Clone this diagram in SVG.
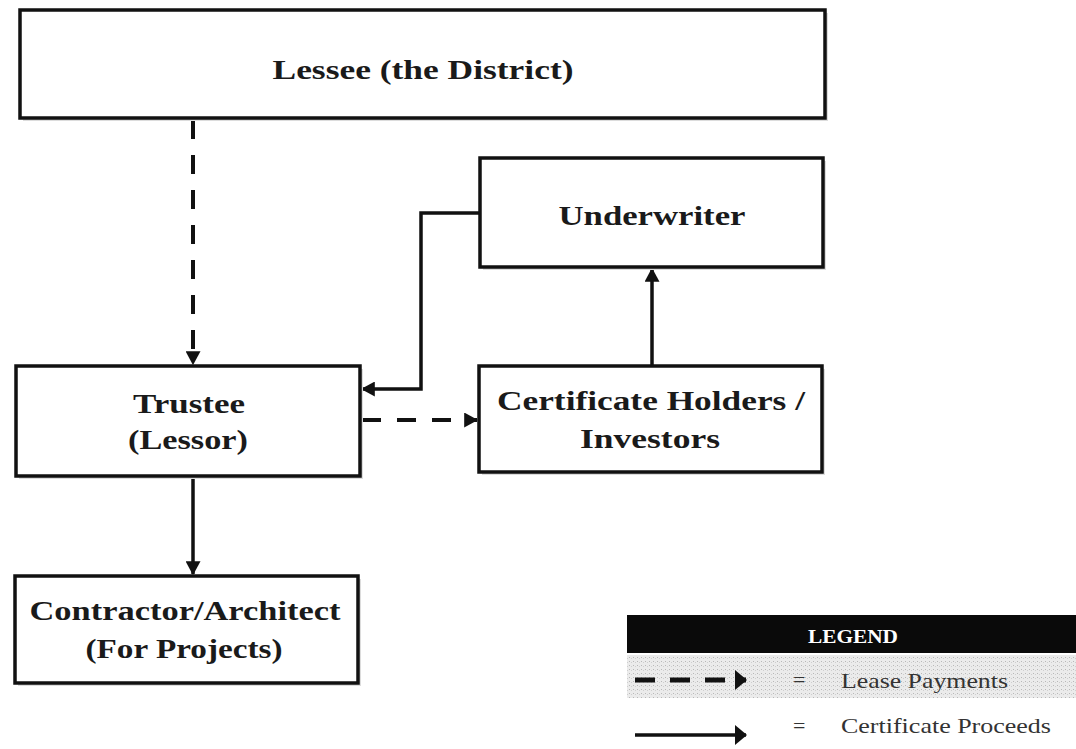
<svg xmlns="http://www.w3.org/2000/svg" width="1076" height="749" viewBox="0 0 1076 749">
<style>
.box{fill:#fff;stroke:#111;stroke-width:3.5}
.shadow{fill:#dcdcdc}
.lbl{font-family:"Liberation Serif",serif;font-weight:bold;font-size:28px;fill:#1a1a1a;text-anchor:middle}
.conn{fill:none;stroke:#111;stroke-width:3.5}
.dash{stroke-width:4;stroke-dasharray:19 16}
.leg{font-family:"Liberation Serif",serif;font-size:22px;fill:#333}
</style>
<defs>
<marker id="ah" viewBox="0 0 12 12" refX="11" refY="6" markerWidth="14" markerHeight="15" markerUnits="userSpaceOnUse" orient="auto" preserveAspectRatio="none">
<path d="M0,0 L12,6 L0,12 Z" fill="#111"/>
</marker>
<marker id="ahl" viewBox="0 0 12 12" refX="11" refY="6" markerWidth="12" markerHeight="20" markerUnits="userSpaceOnUse" orient="auto" preserveAspectRatio="none">
<path d="M0,0 L12,6 L0,12 Z" fill="#111"/>
</marker>
<pattern id="stip" width="4" height="4" patternUnits="userSpaceOnUse">
<rect width="4" height="4" fill="#ebebeb"/>
<rect x="1" y="1" width="1" height="1" fill="#b8b8b8"/>
<rect x="3" y="2" width="1" height="1" fill="#cfcfcf"/>
</pattern>
</defs>
<rect width="1076" height="749" fill="#fff"/>
<g id="connectors">
<path class="conn dash" d="M193,120 V364" marker-end="url(#ah)"/>
<path class="conn" d="M480,213 H421 V389 H362" marker-end="url(#ah)"/>
<path class="conn dash" d="M362,420 H477" marker-end="url(#ah)"/>
<path class="conn" d="M652,366 V269" marker-end="url(#ah)"/>
<path class="conn" d="M193,478 V574" marker-end="url(#ah)"/>
</g>
<g id="lessee">
<rect class="shadow" x="23" y="13" width="805" height="108"/>
<rect class="box" x="20" y="10" width="805" height="108"/>
<text class="lbl" x="423" y="79" textLength="301" lengthAdjust="spacingAndGlyphs">Lessee (the District)</text>
</g>
<g id="underwriter">
<rect class="shadow" x="483" y="161" width="343" height="109"/>
<rect class="box" x="480" y="158" width="343" height="109"/>
<text class="lbl" x="652" y="225" textLength="187" lengthAdjust="spacingAndGlyphs">Underwriter</text>
</g>
<g id="trustee">
<rect class="shadow" x="19" y="369" width="344" height="110"/>
<rect class="box" x="16" y="366" width="344" height="110"/>
<text class="lbl" x="189" y="413" textLength="112" lengthAdjust="spacingAndGlyphs">Trustee</text>
<text class="lbl" x="188" y="449" textLength="120" lengthAdjust="spacingAndGlyphs">(Lessor)</text>
</g>
<g id="holders">
<rect class="shadow" x="482" y="369" width="343" height="106"/>
<rect class="box" x="479" y="366" width="343" height="106"/>
<text class="lbl" x="651" y="410" textLength="308" lengthAdjust="spacingAndGlyphs">Certificate Holders /</text>
<text class="lbl" x="650" y="448" textLength="140" lengthAdjust="spacingAndGlyphs">Investors</text>
</g>
<g id="contractor">
<rect class="shadow" x="18" y="579" width="343" height="107"/>
<rect class="box" x="15" y="576" width="343" height="107"/>
<text class="lbl" x="185" y="620" textLength="311" lengthAdjust="spacingAndGlyphs">Contractor/Architect</text>
<text class="lbl" x="184" y="658" textLength="197" lengthAdjust="spacingAndGlyphs">(For Projects)</text>
</g>
<g id="legend">
<rect x="627" y="615" width="449" height="38" fill="#0a0a0a"/>
<text x="853" y="643" font-family="Liberation Serif,serif" font-weight="bold" font-size="19" fill="#fff" text-anchor="middle" textLength="90" lengthAdjust="spacingAndGlyphs">LEGEND</text>
<rect x="627" y="655" width="449" height="43" fill="url(#stip)"/>
<path d="M635,680 H746" fill="none" stroke="#111" stroke-width="5" stroke-dasharray="20 15" marker-end="url(#ahl)"/>
<text class="leg" x="793" y="687">=</text>
<text class="leg" x="841" y="688" textLength="167" lengthAdjust="spacingAndGlyphs">Lease Payments</text>
<path d="M635,735 H746" fill="none" stroke="#111" stroke-width="3.5" marker-end="url(#ahl)"/>
<text class="leg" x="793" y="733">=</text>
<text class="leg" x="841" y="733" textLength="210" lengthAdjust="spacingAndGlyphs">Certificate Proceeds</text>
</g>
</svg>
